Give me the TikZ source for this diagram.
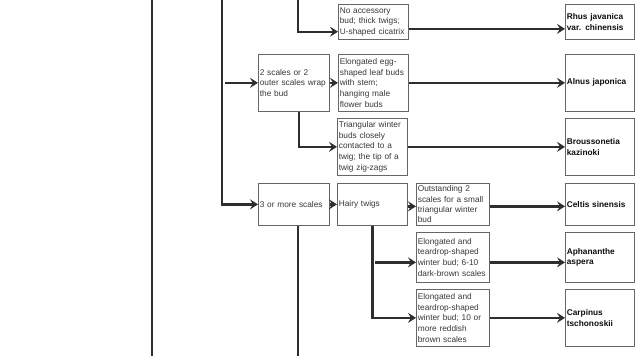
\documentclass[tikz,border=0pt]{standalone}
\usepackage{fontspec}
\setmainfont{Liberation Sans}
\usetikzlibrary{arrows.meta}
\begin{document}
\begin{tikzpicture}[x=1pt,y=-1pt,
  box/.style={draw=black!60, line width=0.7pt, anchor=north west, inner xsep=1.5pt, inner ysep=0pt,
    align=left, font=\fontsize{8.3}{10.8}\selectfont, text=black!78},
  sp/.style={box, font=\fontsize{8.3}{10.8}\selectfont\bfseries, text=black!95},
  conn/.style={line width=2.4pt, draw=black!82},
  arr/.style={conn, -{Stealth[length=8pt,width=10pt,inset=3pt]}}]
\fill[white] (0,0) rectangle (640,356);
\useasboundingbox (0,0) rectangle (640,356);
% boxes
\node[box, text width=67pt, minimum height=35pt] (acc) at (338,4) {No accessory\\bud; thick twigs;\\U-shaped cicatrix};
\node[sp, text width=66pt, minimum height=35pt] (rhus) at (565,4) {Rhus javanica\\var. chinensis};
\node[box, text width=68pt, minimum height=57pt] (two) at (258,54) {2 scales or 2\\outer scales wrap\\the bud};
\node[box, text width=67pt, minimum height=57pt] (egg) at (338,54) {Elongated egg-\\shaped leaf buds\\with stem;\\hanging male\\flower buds};
\node[sp, text width=66pt, minimum height=57pt] (alnus) at (565,54) {Alnus japonica};
\node[box, text width=67pt, minimum height=57pt] (tri) at (337,118) {Triangular winter\\buds closely\\contacted to a\\twig; the tip of a\\twig zig-zags};
\node[sp, text width=66pt, minimum height=57pt] (brou) at (565,118) {Broussonetia\\kazinoki};
\node[box, text width=68pt, minimum height=42pt] (three) at (258,183) {3 or more scales};
\node[box, text width=67pt, minimum height=42pt] (hairy) at (337,183) {Hairy twigs};
\node[box, text width=70pt, minimum height=42pt, font=\fontsize{8.3}{10.4}\selectfont] (out) at (416,183) {Outstanding 2\\scales for a small\\triangular winter\\bud};
\node[sp, text width=66pt, minimum height=42pt] (celtis) at (565,183) {Celtis sinensis};
\node[box, text width=70pt, minimum height=50pt] (e610) at (416,232) {Elongated and\\teardrop-shaped\\winter bud; 6-10\\dark-brown scales};
\node[sp, text width=66pt, minimum height=50pt] (aph) at (565,232) {Aphananthe\\aspera};
\node[box, text width=70pt, minimum height=57pt] (e10) at (416,289) {Elongated and\\teardrop-shaped\\winter bud; 10 or\\more reddish\\brown scales};
\node[sp, text width=66pt, minimum height=57pt] (carp) at (565,289) {Carpinus\\tschonoskii};
% free ends
\coordinate (leftT) at (152,0);
\coordinate (leftB) at (152,356);
\coordinate (trunk) at (222,0);
\coordinate (topB) at (298,0);
\coordinate (botB) at (298,356);
\coordinate (accin) at ([yshift=8pt]acc.south west);
\coordinate (e610in) at ([yshift=-5pt]e610.west);
% connectors
\draw[conn, line width=2pt] (leftT) -- (leftB);
\draw[arr] (trunk) |- (three.west);
\draw[arr] ([xshift=3pt]trunk |- two.west) -- (two.west);
\draw[arr] (topB) |- (accin);
\draw[arr] ([yshift=-7pt]acc.east) -- ([yshift=-7pt]rhus.west);
\draw[arr] (two.east) -- (egg.west);
\draw[arr] (egg.east) -- (alnus.west);
\draw[arr] ([xshift=5pt]two.south) |- (tri.west);
\draw[arr] (tri.east) -- (brou.west);
\draw[arr] (three.east) -- (hairy.west);
\draw[arr] ([yshift=-2pt]hairy.east) -- ([yshift=-2pt]out.west);
\draw[arr] ([yshift=-2pt]out.east) -- ([yshift=-2pt]celtis.west);
\draw[conn] (three.south -| botB) -- (botB);
\draw[arr] (hairy.south) |- (e10.west);
\draw[arr] ([xshift=3pt]e610in -| hairy.south) -- (e610in);
\draw[arr] (e610in -| e610.east) -- (e610in -| aph.west);
\draw[arr] (e10.east) -- (carp.west);
\end{tikzpicture}
\end{document}
